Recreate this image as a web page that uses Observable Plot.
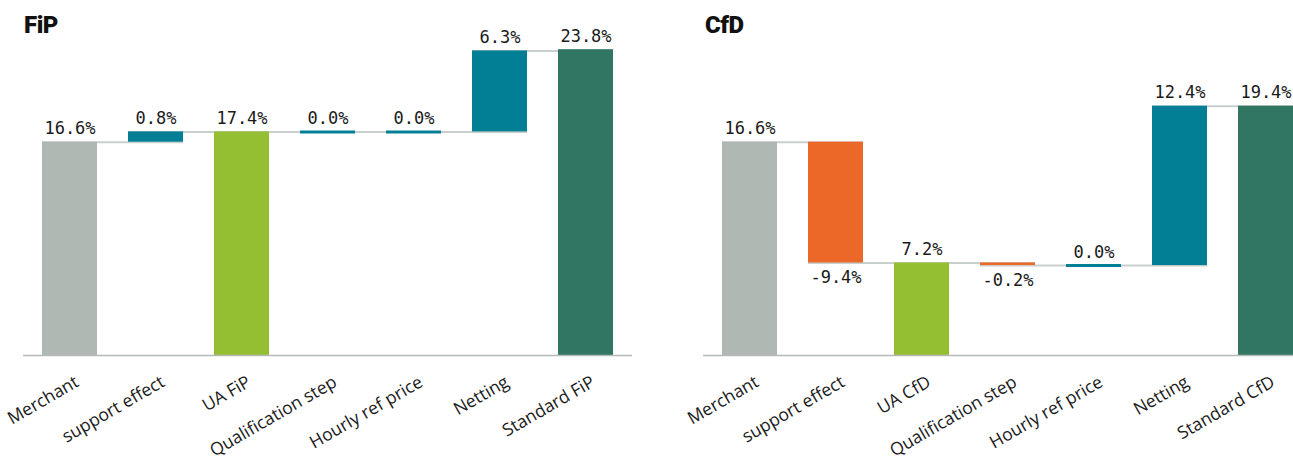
<!DOCTYPE html>
<html>
<head>
<meta charset="utf-8">
<script src="https://cdn.jsdelivr.net/npm/d3@7"></script>
<script src="https://cdn.jsdelivr.net/npm/@observablehq/plot@0.6"></script>
<style>
  html, body { margin: 0; padding: 0; background: #fff; overflow: hidden; }
  #wrap { position: relative; width: 1293px; height: 462px; }
  .panel { position: absolute; top: 0; height: 462px; }
  .title { position: absolute; top: 13px; font-family: Roboto, "DejaVu Sans", sans-serif; font-weight: 900; font-size: 24px; line-height: 24px; color: #111; letter-spacing: -0.5px; }
</style>
</head>
<body>
<div id="wrap">
  <div class="panel" id="fip" style="left:0;width:646px"></div>
  <div class="panel" id="cfd" style="left:646px;width:647px"></div>
  <div class="title" style="left:24px">FiP</div>
  <div class="title" style="left:705px">CfD</div>
</div>
<script>
// ---- data ----
const fipTitle = "FiP";
const fipCategories = ["Merchant", "support effect", "UA FiP", "Qualification step", "Hourly ref price", "Netting", "Standard FiP"];
const fipValues = [16.6, 0.8, 17.4, 0.0, 0.0, 6.3, 23.8];
const fipKinds = ["base", "step", "ua", "step", "step", "step", "standard"];

const cfdTitle = "CfD";
const cfdCategories = ["Merchant", "support effect", "UA CfD", "Qualification step", "Hourly ref price", "Netting", "Standard CfD"];
const cfdValues = [16.6, -9.4, 7.2, -0.2, 0.0, 12.4, 19.4];
const cfdKinds = ["base", "step", "ua", "step", "step", "step", "standard"];

const colors = {base: "#b0b8b4", ua: "#95bf32", standard: "#307663", up: "#027f95", down: "#eb6828"};

function build(categories, values, kinds) {
  let running = 0;
  return categories.map((c, i) => {
    const v = values[i];
    let y1, y2;
    if (kinds[i] === "step") { y1 = running; y2 = running + v; }
    else { y1 = 0; y2 = v; }
    running = y2;
    const color = kinds[i] === "step" ? (v < 0 ? colors.down : colors.up) : colors[kinds[i]];
    return {cat: c, value: v, kind: kinds[i], y1, y2, level: y2, color,
            label: v.toFixed(1) + "%", neg: v < 0};
  });
}

function chart(categories, values, kinds, opts) {
  const rows = build(categories, values, kinds);
  const links = rows.slice(0, -1).map((r, i) => ({x1: r.cat, x2: rows[i + 1].cat, y: r.level}));
  const labelFont = "'DejaVu Sans Mono', monospace";
  const axisFont = "'Open Sans', 'Noto Sans', sans-serif";
  return Plot.plot({
    width: opts.width,
    height: 462,
    marginTop: 355 - 25 * 12.85,
    marginBottom: 107,
    marginLeft: opts.marginLeft,
    marginRight: opts.marginRight,
    x: {domain: categories, paddingInner: 0.363, paddingOuter: opts.paddingOuter, align: opts.align, axis: null},
    y: {domain: [0, 25], axis: null},
    style: {background: "transparent", overflow: "visible"},
    marks: [
      Plot.ruleY(links, {x1: "x1", x2: "x2", y: "y", stroke: "#c9cfcd", strokeWidth: 2}),
      Plot.barY(rows.filter(d => d.y1 !== d.y2), {x: "cat", y1: "y1", y2: "y2", fill: d => d.color}),
      Plot.tickY(rows.filter(d => d.y1 === d.y2), {x: "cat", y: "y2", stroke: d => d.color, strokeWidth: 3}),
      Plot.ruleY([0], {stroke: "#b5b9b8", strokeWidth: 1.5}),
      Plot.text(rows.filter(d => !d.neg), {x: "cat", y: d => Math.max(d.y1, d.y2), text: "label",
        lineAnchor: "bottom", dy: -8, fontSize: 17, fill: "#1a1a1a", fontFamily: labelFont}),
      Plot.text(rows.filter(d => d.neg), {x: "cat", y: d => Math.min(d.y1, d.y2), text: "label",
        lineAnchor: "top", dy: 8, fontSize: 17, fill: "#1a1a1a", fontFamily: labelFont}),
      Plot.axisX({domain: categories, tickSize: 0, tickRotate: -30, tickPadding: 0,
        textAnchor: "end", lineAnchor: "bottom", dx: 10, dy: 30, fontSize: 17.5, fill: "#1a1a1a", fontFamily: axisFont, label: null})
    ]
  });
}

document.getElementById("fip").append(chart(fipCategories, fipValues, fipKinds,
  {width: 646, marginLeft: 23, marginRight: 14, paddingOuter: 0.21, align: 0.5}));
document.getElementById("cfd").append(chart(cfdCategories, cfdValues, cfdKinds,
  {width: 647, marginLeft: 57, marginRight: 0, paddingOuter: 0.105, align: 1}));
</script>
</body>
</html>
